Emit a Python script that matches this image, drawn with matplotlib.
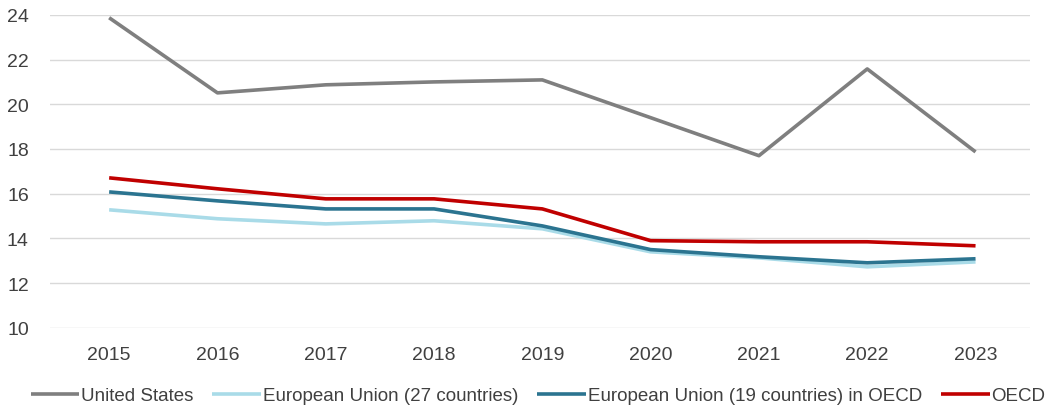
import matplotlib
matplotlib.use("Agg")
import matplotlib.pyplot as plt

years = ["2015", "2016", "2017", "2018", "2019", "2020", "2021", "2022", "2023"]
us = [23.87, 20.51, 20.87, 21.0, 21.09, 19.4, 17.7, 21.58, 17.87]
eu27 = [15.28, 14.88, 14.65, 14.79, 14.43, 13.4, 13.13, 12.73, 12.95]
eu19 = [16.08, 15.68, 15.32, 15.32, 14.56, 13.5, 13.18, 12.91, 13.09]
oecd = [16.71, 16.22, 15.77, 15.77, 15.32, 13.9, 13.85, 13.85, 13.67]

series = [
    ("United States", us, "#7f7f7f"),
    ("European Union (27 countries)", eu27, "#a9dbe8"),
    ("European Union (19 countries) in OECD", eu19, "#2b7490"),
    ("OECD", oecd, "#c00000"),
]

plt.rcParams['font.family'] = ['Liberation Sans', 'DejaVu Sans']

fig = plt.figure(figsize=(10.55, 4.06), dpi=100)
ax = fig.add_axes([0.047, 0.19, 0.929, 0.771])
x = list(range(len(years)))
for name, vals, col in series:
    ax.plot(x, vals, color=col, lw=2.6, label=name, solid_capstyle='butt')

ax.set_ylim(10, 24)
ax.set_yticks(range(10, 25, 2))
ax.set_xlim(-0.55, 8.5)
ax.set_xticks(x)
ax.set_xticklabels(years)
ax.grid(axis='y', color='#d9d9d9', lw=1)
ax.set_axisbelow(True)
for s in ax.spines.values():
    s.set_visible(False)
ax.tick_params(length=0, labelsize=14, colors='#404040')
ax.tick_params(axis='x', pad=13)
ax.tick_params(axis='y', pad=15)

leg = fig.legend(loc='lower center', bbox_to_anchor=(0.51, -0.04), ncol=4, frameon=False,
                 fontsize=13.5, handlelength=2.6, handletextpad=0.1, columnspacing=1.0)
for t in leg.get_texts():
    t.set_color('#404040')

fig.savefig("out.png", dpi=100)
